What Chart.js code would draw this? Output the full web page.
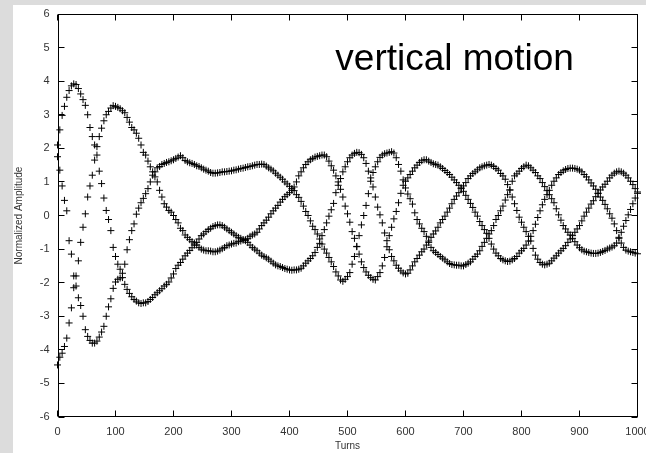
<!DOCTYPE html>
<html>
<head>
<meta charset="utf-8">
<script src="https://cdn.jsdelivr.net/npm/chart.js@4.4.1/dist/chart.umd.min.js"></script>
<style>
html,body{margin:0;padding:0;background:#fff;}
canvas{display:block;}
</style>
</head>
<body>
<canvas id="c" width="646" height="453"></canvas>
<script>
const turns = [
0,4,8,12,16,20,24,28,32,36,
40,44,48,52,56,60,64,68,72,76,
80,84,88,92,96,100,104,108,112,116,
120,124,128,132,136,140,144,148,152,156,
160,164,168,172,176,180,184,188,192,196,
200,204,208,212,216,220,224,228,232,236,
240,244,248,252,256,260,264,268,272,276,
280,284,288,292,296,300,304,308,312,316,
320,324,328,332,336,340,344,348,352,356,
360,364,368,372,376,380,384,388,392,396,
400,404,408,412,416,420,424,428,432,436,
440,444,448,452,456,460,464,468,472,476,
480,484,488,492,496,500,504,508,512,516,
520,524,528,532,536,540,544,548,552,556,
560,564,568,572,576,580,584,588,592,596,
600,604,608,612,616,620,624,628,632,636,
640,644,648,652,656,660,664,668,672,676,
680,684,688,692,696,700,704,708,712,716,
720,724,728,732,736,740,744,748,752,756,
760,764,768,772,776,780,784,788,792,796,
800,804,808,812,816,820,824,828,832,836,
840,844,848,852,856,860,864,868,872,876,
880,884,888,892,896,900,904,908,912,916,
920,924,928,932,936,940,944,948,952,956,
960,964,968,972,976,980,984,988,992,996,
1000
];

const seriesA = [
2.10,2.55,2.98,3.25,3.52,3.72,3.86,3.92,3.90,3.78,
3.62,3.45,3.28,3.00,2.62,2.35,2.10,1.80,1.32,0.95,
0.52,0.15,-0.12,-0.45,-0.95,-1.22,-1.45,-1.60,-1.85,-2.05,
-2.20,-2.32,-2.42,-2.50,-2.55,-2.60,-2.62,-2.60,-2.60,-2.56,
-2.50,-2.44,-2.36,-2.30,-2.24,-2.18,-2.10,-2.05,-1.98,-1.86,
-1.74,-1.58,-1.48,-1.40,-1.30,-1.20,-1.12,-1.04,-0.96,-0.88,
-0.80,-0.70,-0.60,-0.55,-0.48,-0.42,-0.38,-0.33,-0.30,-0.28,
-0.28,-0.30,-0.35,-0.40,-0.45,-0.50,-0.55,-0.60,-0.65,-0.68,
-0.72,-0.75,-0.80,-0.88,-0.95,-1.00,-1.05,-1.12,-1.18,-1.22,
-1.26,-1.30,-1.36,-1.42,-1.47,-1.50,-1.52,-1.55,-1.58,-1.60,
-1.62,-1.63,-1.62,-1.62,-1.60,-1.57,-1.50,-1.42,-1.35,-1.28,
-1.20,-1.10,-0.95,-0.83,-0.60,-0.42,-0.22,-0.02,0.17,0.36,
0.68,0.90,1.10,1.30,1.45,1.60,1.72,1.80,1.85,1.88,
1.87,1.82,1.72,1.55,1.32,1.12,0.85,0.55,0.25,0.02,
-0.22,-0.52,-0.75,-1.02,-1.22,-1.35,-1.48,-1.57,-1.65,-1.71,
-1.74,-1.72,-1.62,-1.50,-1.38,-1.28,-1.18,-1.08,-1.00,-0.88,
-0.76,-0.65,-0.55,-0.46,-0.35,-0.22,-0.12,-0.02,0.10,0.22,
0.35,0.48,0.58,0.68,0.80,0.88,0.98,1.10,1.18,1.25,
1.30,1.36,1.42,1.45,1.48,1.50,1.52,1.50,1.46,1.40,
1.35,1.25,1.18,1.08,0.92,0.76,0.55,0.35,0.15,-0.05,
-0.20,-0.35,-0.48,-0.62,-0.76,-0.98,-1.18,-1.30,-1.40,-1.45,
-1.47,-1.45,-1.42,-1.35,-1.27,-1.20,-1.12,-1.05,-0.98,-0.90,
-0.80,-0.70,-0.60,-0.50,-0.40,-0.30,-0.16,-0.02,0.10,0.22,
0.34,0.44,0.56,0.66,0.76,0.85,0.93,1.02,1.12,1.20,
1.26,1.30,1.32,1.30,1.26,1.20,1.12,1.02,0.92,0.80,
0.70
];

const seriesB = [
-4.45,-4.22,-4.10,-3.90,-3.65,-3.20,-2.75,-2.15,-1.80,-1.35,
-0.80,-0.35,0.05,0.55,0.88,1.20,1.65,2.05,2.35,2.60,
2.82,3.00,3.10,3.20,3.27,3.25,3.22,3.18,3.12,3.06,
2.92,2.78,2.62,2.55,2.45,2.30,2.10,1.88,1.80,1.62,
1.45,1.30,1.15,1.00,0.75,0.55,0.35,0.25,0.15,0.10,
0.00,-0.12,-0.22,-0.38,-0.45,-0.58,-0.65,-0.72,-0.78,-0.82,
-0.88,-0.95,-1.00,-1.03,-1.05,-1.05,-1.06,-1.08,-1.08,-1.06,
-1.03,-0.99,-0.95,-0.90,-0.88,-0.85,-0.83,-0.82,-0.78,-0.76,
-0.73,-0.72,-0.68,-0.62,-0.58,-0.55,-0.50,-0.40,-0.30,-0.22,
-0.14,-0.05,0.05,0.14,0.22,0.30,0.40,0.48,0.56,0.62,
0.68,0.75,0.85,1.00,1.18,1.30,1.42,1.52,1.60,1.66,
1.70,1.74,1.76,1.78,1.80,1.80,1.75,1.62,1.48,1.35,
1.18,1.00,0.78,0.55,0.28,0.05,-0.20,-0.48,-0.68,-0.92,
-1.15,-1.38,-1.55,-1.68,-1.78,-1.85,-1.90,-1.92,-1.82,-1.70,
-1.50,-1.25,-0.93,-0.60,-0.35,-0.10,0.12,0.38,0.66,0.90,
1.02,1.12,1.22,1.32,1.42,1.50,1.58,1.63,1.66,1.66,
1.62,1.58,1.54,1.52,1.50,1.45,1.40,1.34,1.28,1.22,
1.14,1.06,0.98,0.90,0.82,0.72,0.60,0.48,0.36,0.24,
0.10,-0.02,-0.18,-0.30,-0.42,-0.53,-0.68,-0.85,-1.00,-1.12,
-1.20,-1.28,-1.32,-1.35,-1.37,-1.36,-1.32,-1.28,-1.22,-1.12,
-1.05,-0.98,-0.88,-0.76,-0.62,-0.45,-0.26,-0.06,0.14,0.32,
0.48,0.62,0.75,0.90,1.02,1.12,1.22,1.28,1.33,1.37,
1.40,1.41,1.41,1.40,1.38,1.35,1.30,1.22,1.15,1.06,
0.97,0.88,0.78,0.66,0.55,0.45,0.33,0.20,0.05,-0.08,
-0.25,-0.45,-0.65,-0.82,-0.95,-1.03,-1.06,-1.08,-1.10,-1.12,
-1.14
];

const seriesC = [
1.75,1.35,0.88,0.45,0.14,-0.75,-1.15,-1.80,-2.10,-2.45,
-2.68,-3.00,-3.40,-3.60,-3.72,-3.80,-3.80,-3.74,-3.62,-3.47,
-3.30,-3.00,-2.72,-2.48,-2.17,-1.98,-1.90,-1.86,-1.72,-1.45,
-1.02,-0.72,-0.45,-0.25,0.04,0.22,0.38,0.51,0.65,0.80,
1.00,1.20,1.30,1.42,1.46,1.52,1.55,1.58,1.60,1.63,
1.66,1.70,1.74,1.78,1.72,1.64,1.60,1.57,1.55,1.52,
1.48,1.46,1.42,1.38,1.35,1.32,1.28,1.26,1.26,1.27,
1.28,1.30,1.30,1.31,1.32,1.33,1.35,1.36,1.38,1.40,
1.41,1.43,1.45,1.46,1.48,1.50,1.52,1.52,1.53,1.52,
1.47,1.42,1.38,1.33,1.26,1.20,1.14,1.08,1.00,0.94,
0.87,0.80,0.74,0.62,0.54,0.42,0.28,0.12,0.00,-0.16,
-0.32,-0.42,-0.55,-0.70,-0.85,-1.00,-1.12,-1.25,-1.38,-1.52,
-1.68,-1.80,-1.92,-1.96,-1.90,-1.82,-1.70,-1.45,-1.22,-0.93,
-0.60,-0.28,0.00,0.30,0.65,1.02,1.28,1.45,1.60,1.73,
1.80,1.84,1.86,1.88,1.90,1.86,1.72,1.52,1.32,1.06,
0.82,0.64,0.50,0.34,0.08,-0.12,-0.25,-0.38,-0.48,-0.62,
-0.80,-0.95,-1.05,-1.10,-1.16,-1.22,-1.27,-1.32,-1.38,-1.43,
-1.46,-1.47,-1.48,-1.48,-1.50,-1.50,-1.46,-1.42,-1.38,-1.30,
-1.22,-1.15,-1.05,-0.92,-0.80,-0.68,-0.55,-0.45,-0.30,-0.12,
0.00,0.14,0.28,0.46,0.62,0.76,1.02,1.18,1.24,1.32,
1.40,1.45,1.50,1.48,1.42,1.35,1.28,1.18,1.10,0.98,
0.86,0.74,0.62,0.50,0.38,0.20,0.02,-0.14,-0.30,-0.40,
-0.50,-0.58,-0.68,-0.78,-0.88,-0.96,-1.02,-1.06,-1.08,-1.10,
-1.12,-1.13,-1.13,-1.12,-1.10,-1.07,-1.04,-1.00,-0.97,-0.94,
-0.90,-0.82,-0.68,-0.50,-0.32,-0.15,0.02,0.18,0.35,0.52,
0.66
];

const xTickLabels = ['0','100','200','300','400','500','600','700','800','900','1000'];
const yTickLabels = ['-6','-5','-4','-3','-2','-1','0','1','2','3','4','5','6'];
const xTitle = 'Turns';
const yTitle = 'Normalized Amplitude';
const annotationText = 'vertical motion';

const FONT = '"Liberation Sans", Arial, sans-serif';

function toPoints(ys) { return turns.map((t, i) => ({ x: t, y: ys[i] })); }

function makeDataset(ys) {
  return {
    data: toPoints(ys),
    pointStyle: 'cross',
    pointRadius: 3.5,
    pointHoverRadius: 3.5,
    borderColor: '#000',
    backgroundColor: '#000',
    borderWidth: 1,
    showLine: false,
    clip: false
  };
}

const backgroundPlugin = {
  id: 'bg',
  beforeDraw(chart) {
    const ctx = chart.ctx;
    ctx.save();
    ctx.fillStyle = '#dcdcdc';
    ctx.fillRect(0, 0, chart.width, chart.height);
    ctx.fillStyle = '#ffffff';
    ctx.fillRect(13, 5, chart.width - 13, chart.height - 5);
    ctx.restore();
  }
};

const framePlugin = {
  id: 'frame',
  afterDatasetsDraw(chart) {
    const ctx = chart.ctx;
    const a = chart.chartArea;
    const xs = chart.scales.x, ys = chart.scales.y;
    const L = Math.round(a.left) + 0.5, R = Math.round(a.right) - 0.5;
    const T = Math.round(a.top) + 0.5, B = Math.round(a.bottom) - 0.5;
    ctx.save();
    ctx.strokeStyle = '#000';
    ctx.lineWidth = 1;
    ctx.strokeRect(L, T, R - L, B - T);
    const len = 6;
    ctx.beginPath();
    xs.ticks.forEach(t => {
      const px = Math.round(xs.getPixelForValue(t.value) - 0.5) + 0.5;
      ctx.moveTo(px, B); ctx.lineTo(px, B - len);
      ctx.moveTo(px, T); ctx.lineTo(px, T + len);
    });
    ys.ticks.forEach(t => {
      const py = Math.round(ys.getPixelForValue(t.value) - 0.5) + 0.5;
      ctx.moveTo(L, py); ctx.lineTo(L + len, py);
      ctx.moveTo(R, py); ctx.lineTo(R - len, py);
    });
    ctx.stroke();
    ctx.fillStyle = '#000';
    ctx.font = '37px ' + FONT;
    ctx.textBaseline = 'alphabetic';
    ctx.textAlign = 'left';
    ctx.fillText(annotationText, xs.getPixelForValue(479), ys.getPixelForValue(4.33));
    ctx.restore();
  }
};

new Chart(document.getElementById('c'), {
  type: 'scatter',
  data: { datasets: [makeDataset(seriesA), makeDataset(seriesB), makeDataset(seriesC)] },
  options: {
    responsive: false,
    animation: false,
    devicePixelRatio: 1,
    layout: { padding: { left: 13, top: 14, right: 8.5, bottom: 0 } },
    plugins: { legend: { display: false }, tooltip: { enabled: false } },
    events: [],
    scales: {
      x: {
        type: 'linear', min: 0, max: 1000,
        grid: { display: false },
        border: { display: false },
        ticks: {
          stepSize: 100, autoSkip: false, maxRotation: 0, padding: 0,
          color: '#333', font: { family: FONT, size: 11 },
          callback: (v, i) => xTickLabels[i]
        },
        title: { display: true, text: xTitle, color: '#333', font: { family: FONT, size: 10 }, padding: { top: 0, bottom: 1 } },
        afterFit(s) { s.height = 36; s.paddingLeft = 0; s.paddingRight = 0; }
      },
      y: {
        type: 'linear', min: -6, max: 6,
        grid: { display: false },
        border: { display: false },
        ticks: {
          stepSize: 1, autoSkip: false, padding: 0,
          color: '#333', font: { family: FONT, size: 11 },
          callback: (v, i) => yTickLabels[i]
        },
        title: { display: true, text: yTitle, color: '#333', font: { family: FONT, size: 10 }, padding: { top: 0, bottom: 0 } },
        afterFit(s) { s.width = 44.5; s.paddingTop = 0; s.paddingBottom = 0; }
      }
    }
  },
  plugins: [backgroundPlugin, framePlugin]
});
</script>
</body>
</html>
